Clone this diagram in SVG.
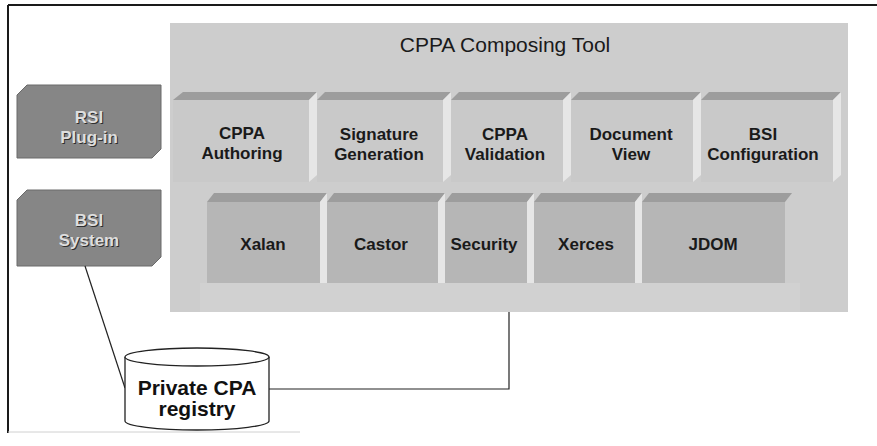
<svg xmlns="http://www.w3.org/2000/svg" width="877" height="446" viewBox="0 0 877 446">
<style>
.t{font-family:"Liberation Sans",Arial,sans-serif;font-weight:bold;font-size:17px;fill:#1a1a1a;text-anchor:middle}
.lt{font-family:"Liberation Sans",Arial,sans-serif;font-weight:bold;font-size:17px;fill:#dedede;text-anchor:middle}
.ls{font-family:"Liberation Sans",Arial,sans-serif;font-weight:bold;font-size:17px;fill:#2e2e2e;text-anchor:middle}
.title{font-family:"Liberation Sans",Arial,sans-serif;font-size:21px;fill:#1a1a1a;text-anchor:middle}
.ct{font-family:"Liberation Sans",Arial,sans-serif;font-weight:bold;font-size:21px;fill:#111;text-anchor:middle}
.face1{fill:#c9c9c9}
.face2{fill:#b6b6b6}
.bev{fill:#9d9d9d}
.strip{fill:#e6e6e6}
.dark{fill:#868686;stroke:#6a6a6a;stroke-width:1}
.conn{fill:none;stroke:#222;stroke-width:1.2}
</style>
<rect width="877" height="446" fill="#fff"/>
<g id="frame">
<line x1="8" y1="5" x2="877" y2="5" stroke="#1a1a1a" stroke-width="2"/>
<line x1="8" y1="5" x2="8" y2="433" stroke="#1a1a1a" stroke-width="2"/>
<line x1="8" y1="432" x2="300" y2="432" stroke="#d0d0d0" stroke-width="1"/>
</g>
<g id="panel">
<rect x="170" y="23" width="678" height="289" fill="#cdcdcd"/>
<rect x="200" y="283" width="600" height="29" fill="#d1d1d1"/>
<text class="title" x="505" y="52">CPPA Composing Tool</text>
</g>
<g id="cppa-authoring">
<rect class="face1" x="173" y="100" width="136" height="82"/>
<polygon class="bev" points="173,100 183,92 317,92 309,100"/>
<polygon class="strip" points="309,100 317,92 317,175 309,182"/>
<text class="t" x="242" y="139">CPPA</text><text class="t" x="242" y="159">Authoring</text>
</g>
<g id="signature-generation">
<rect class="face1" x="317" y="100" width="126" height="82"/>
<polygon class="bev" points="317,100 325,92 451,92 443,100"/>
<polygon class="strip" points="443,100 451,92 451,175 443,182"/>
<text class="t" x="379" y="140">Signature</text><text class="t" x="379" y="160">Generation</text>
</g>
<g id="cppa-validation">
<rect class="face1" x="451" y="100" width="112" height="82"/>
<polygon class="bev" points="451,100 459,92 571,92 563,100"/>
<polygon class="strip" points="563,100 571,92 571,175 563,182"/>
<text class="t" x="505" y="140">CPPA</text><text class="t" x="505" y="160">Validation</text>
</g>
<g id="document-view">
<rect class="face1" x="571" y="100" width="122" height="82"/>
<polygon class="bev" points="571,100 579,92 701,92 693,100"/>
<polygon class="strip" points="693,100 701,92 701,175 693,182"/>
<text class="t" x="631" y="140">Document</text><text class="t" x="631" y="160">View</text>
</g>
<g id="bsi-configuration">
<rect class="face1" x="701" y="100" width="132" height="82"/>
<polygon class="bev" points="701,100 709,92 841,92 833,100"/>
<polygon class="strip" points="833,100 841,92 841,175 833,182"/>
<text class="t" x="763" y="140">BSI</text><text class="t" x="763" y="160">Configuration</text>
</g>
<g id="xalan">
<rect class="face2" x="207" y="202" width="113" height="81"/>
<polygon class="bev" points="207,202 214,193 327,193 320,202"/>
<polygon class="strip" points="320,202 327,193 327,283 320,283"/>
<text class="t" x="263" y="250">Xalan</text>
</g>
<g id="castor">
<rect class="face2" x="327" y="202" width="111" height="81"/>
<polygon class="bev" points="327,202 334,193 445,193 438,202"/>
<polygon class="strip" points="438,202 445,193 445,283 438,283"/>
<text class="t" x="381" y="250">Castor</text>
</g>
<g id="security">
<rect class="face2" x="445" y="202" width="82" height="81"/>
<polygon class="bev" points="445,202 452,193 534,193 527,202"/>
<polygon class="strip" points="527,202 534,193 534,283 527,283"/>
<text class="t" x="484" y="250">Security</text>
</g>
<g id="xerces">
<rect class="face2" x="534" y="202" width="101" height="81"/>
<polygon class="bev" points="534,202 541,193 642,193 635,202"/>
<polygon class="strip" points="635,202 642,193 642,283 635,283"/>
<text class="t" x="586" y="250">Xerces</text>
</g>
<g id="jdom">
<rect class="face2" x="642" y="202" width="143" height="81"/>
<polygon class="bev" points="642,202 649,193 792,193 785,202"/>
<text class="t" x="713" y="250">JDOM</text>
</g>
<g id="rsi-plugin">
<polygon class="dark" points="17,95 27,85 161,85 161,149 152,158 17,158"/>
<text class="ls" x="90" y="124">RSI</text><text class="ls" x="90" y="144">Plug-in</text>
<text class="lt" x="89" y="123">RSI</text><text class="lt" x="89" y="143">Plug-in</text>
</g>
<g id="bsi-system">
<polygon class="dark" points="17,200 27,190 161,190 161,257 152,266 17,266"/>
<text class="ls" x="90" y="227">BSI</text><text class="ls" x="90" y="247">System</text>
<text class="lt" x="89" y="226">BSI</text><text class="lt" x="89" y="246">System</text>
</g>
<g id="connectors">
<line class="conn" x1="85" y1="266" x2="125" y2="388"/>
<polyline class="conn" points="269,389 509,389 509,312"/>
</g>
<g id="private-cpa-registry">
<path d="M125,357 L125,421 A72,9 0 0 0 269,421 L269,357" fill="#fff" stroke="#222" stroke-width="1.3"/>
<ellipse cx="197" cy="357" rx="72" ry="9" fill="#fff" stroke="#222" stroke-width="1.3"/>
<text class="ct" x="197" y="395">Private CPA</text>
<text class="ct" x="197" y="416">registry</text>
</g>
</svg>
